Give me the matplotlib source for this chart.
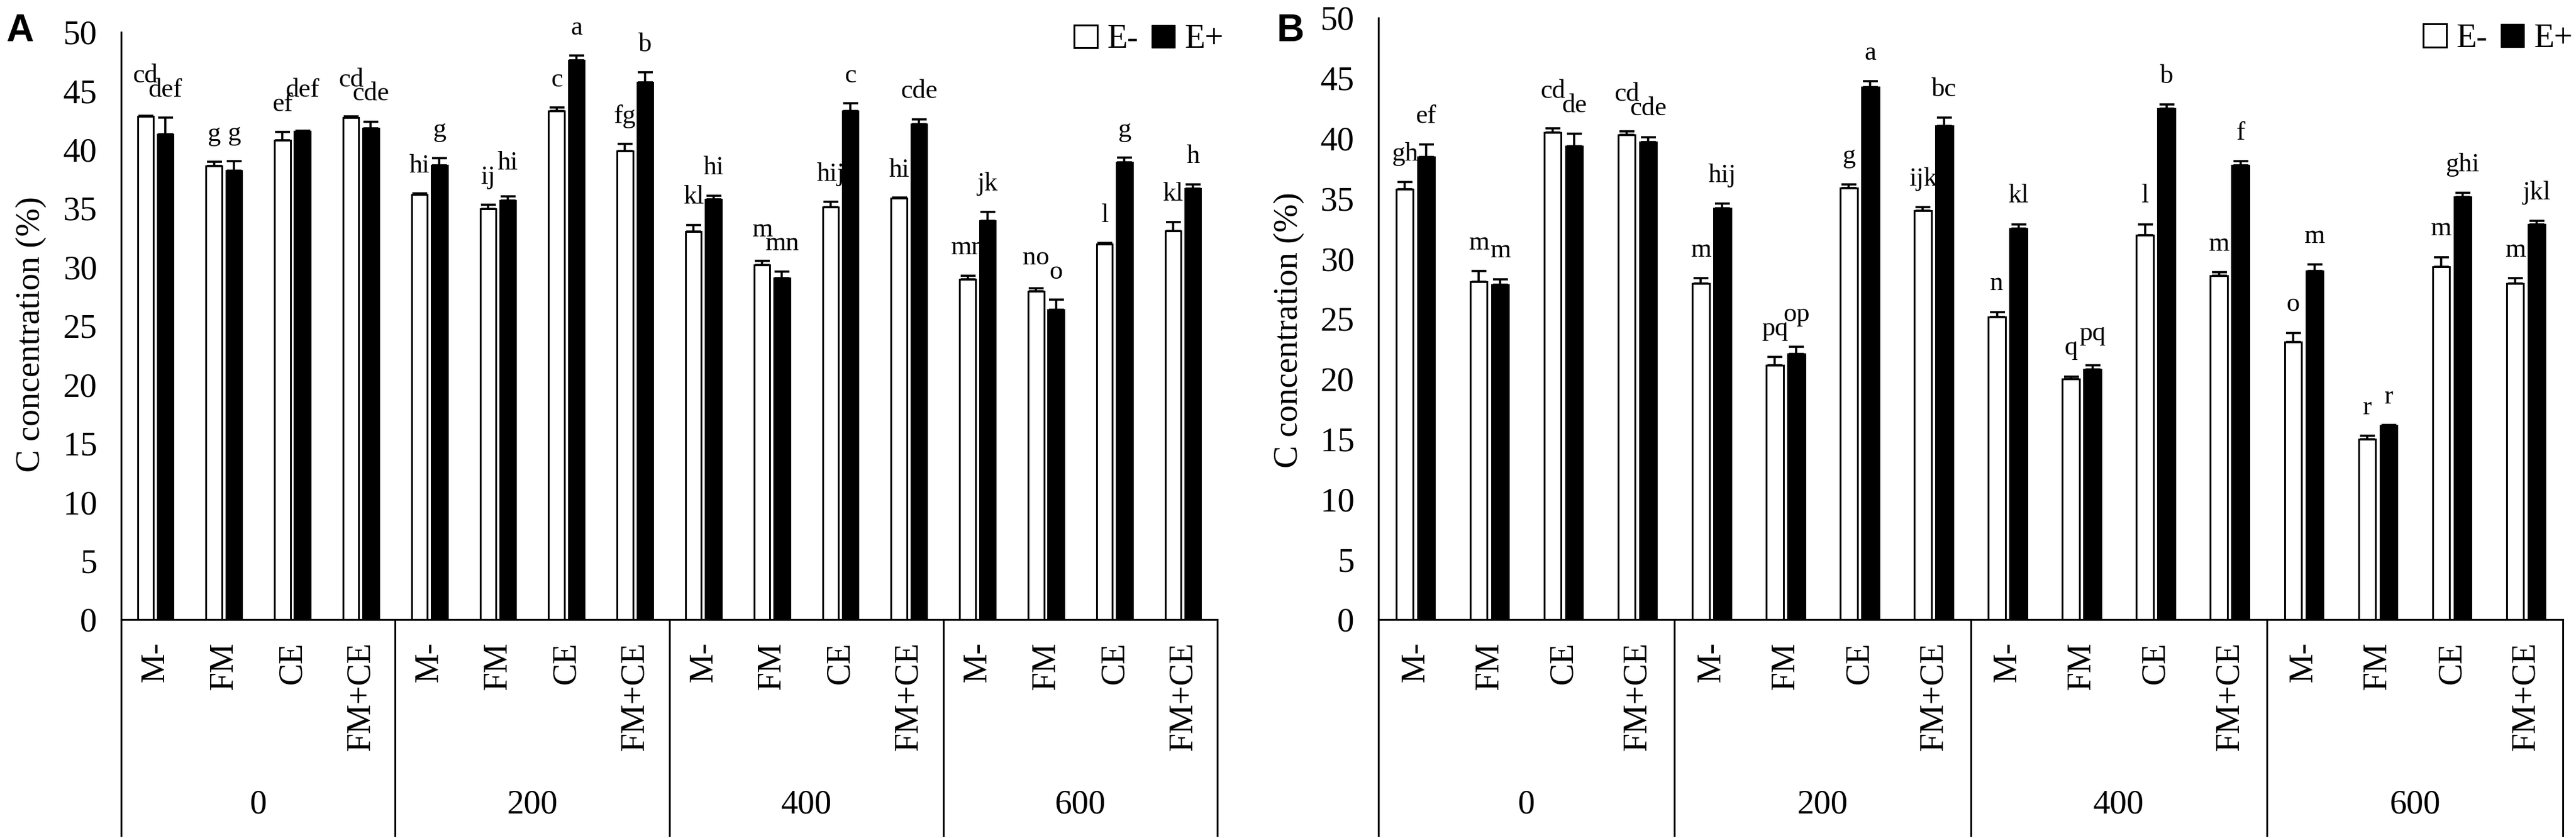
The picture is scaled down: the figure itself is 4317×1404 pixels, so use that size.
import numpy as np
import matplotlib
matplotlib.use("Agg")
import matplotlib.pyplot as plt
import matplotlib.transforms as mtransforms
from matplotlib.patches import Patch

plt.rcParams['font.family'] = ['Liberation Serif', 'DejaVu Serif']

treatments = ['M-', 'FM', 'CE', 'FM+CE']
levels = ['0', '200', '400', '600']

# panel A
a_eminus = [42.8, 38.6, 40.8, 42.7, 36.15, 34.95, 43.3, 39.86,
            33.0, 30.17, 35.12, 35.84, 28.97, 27.94, 31.96, 33.06]
a_eminus_err = [0.07, 0.34, 0.69, 0.1, 0.1, 0.35, 0.27, 0.62,
                0.58, 0.38, 0.41, 0.07, 0.31, 0.27, 0.07, 0.79]
a_eplus = [41.3, 38.2, 41.55, 41.82, 38.66, 35.64, 47.6, 45.7,
           35.74, 29.04, 43.3, 42.16, 33.92, 26.36, 38.93, 36.67]
a_eplus_err = [1.4, 0.8, 0.05, 0.55, 0.62, 0.38, 0.4, 0.86,
               0.34, 0.58, 0.62, 0.42, 0.79, 0.86, 0.38, 0.37]
a_eminus_let = ['cd', 'g', 'ef', 'cd', 'hi', 'ij', 'c', 'fg',
                'kl', 'm', 'hij', 'hi', 'mn', 'no', 'l', 'kl']
a_eplus_let = ['def', 'g', 'def', 'cde', 'g', 'hi', 'a', 'b',
               'hi', 'mn', 'c', 'cde', 'jk', 'o', 'g', 'h']

# panel B
b_eminus = [35.74, 28.09, 40.5, 40.27, 27.95, 21.14, 35.84, 33.96,
            25.17, 19.97, 31.95, 28.59, 23.09, 15.0, 29.3, 27.92]
b_eminus_err = [0.6, 0.87, 0.34, 0.33, 0.4, 0.67, 0.3, 0.3,
                0.4, 0.23, 0.9, 0.27, 0.74, 0.27, 0.83, 0.44]
b_eplus = [38.42, 27.85, 39.36, 39.7, 34.16, 22.08, 44.23, 41.0,
           32.48, 20.8, 42.45, 37.75, 28.96, 16.1, 35.13, 32.82]
b_eplus_err = [1.07, 0.44, 1.0, 0.4, 0.4, 0.57, 0.5, 0.7,
               0.37, 0.34, 0.34, 0.34, 0.54, 0.05, 0.34, 0.3]
b_eminus_let = ['gh', 'm', 'cd', 'cd', 'm', 'pq', 'g', 'ijk',
                'n', 'q', 'l', 'm', 'o', 'r', 'm', 'm']
b_eplus_let = ['ef', 'm', 'de', 'cde', 'hij', 'op', 'a', 'bc',
               'kl', 'pq', 'b', 'f', 'm', 'r', 'ghi', 'jkl']

W, H = 4317, 1404
fig = plt.figure(figsize=(W / 100, H / 100), dpi=100)

LW = 2.2
bw = 0.23
off = 0.145
gap = 1.8    # letter baseline above error bar top
step = 1.2   # min vertical step between neighbouring letters


def draw_panel(rect, em, em_err, ep, ep_err, em_let, ep_let, leg_anchor):
    ax = fig.add_axes(rect)
    n = len(em)
    x = np.arange(n) + 0.5
    ax.bar(x - off, em, bw, color='white', edgecolor='black', linewidth=LW, zorder=2)
    ax.bar(x + off, ep, bw, color='black', edgecolor='black', linewidth=LW, zorder=2)
    ax.errorbar(x - off, em, yerr=[np.zeros(n), em_err], fmt='none', ecolor='black',
                elinewidth=2.6, capsize=9, capthick=2.6, zorder=3)
    ax.errorbar(x + off, ep, yerr=[np.zeros(n), ep_err], fmt='none', ecolor='black',
                elinewidth=2.6, capsize=9, capthick=2.6, zorder=3)
    for i in range(n):
        yw = em[i] + em_err[i] + gap
        yb = ep[i] + ep_err[i] + gap
        # stagger the two letters of a pair when they would collide
        if abs(yw - yb) < step and len(em_let[i]) + len(ep_let[i]) >= 3:
            if yw >= yb:
                yw = yb + step
            else:
                yb = yw + step
        ax.text(x[i] - off, yw, em_let[i], ha='center', va='baseline',
                fontsize=32, clip_on=False)
        ax.text(x[i] + off, yb, ep_let[i], ha='center', va='baseline',
                fontsize=32, clip_on=False)

    ax.set_xlim(0, n)
    ax.set_ylim(0, 50)
    ax.set_yticks(np.arange(0, 51, 5))
    ax.set_xticks(x)
    ax.set_xticklabels(treatments * len(levels), rotation=90)
    ax.tick_params(axis='y', length=0, pad=29, labelsize=41)
    ax.tick_params(axis='x', length=0, pad=27, labelsize=40)
    for s in ['top', 'right']:
        ax.spines[s].set_visible(False)
    for s in ['left', 'bottom']:
        ax.spines[s].set_linewidth(LW)

    # group separators and group labels under the axis
    trans = mtransforms.blended_transform_factory(ax.transData, fig.transFigure)
    for k in range(len(levels) + 1):
        ax.plot([4 * k, 4 * k], [rect[1], 0.003], color='black', lw=LW,
                transform=trans, clip_on=False)
    for k, lev in enumerate(levels):
        ax.text(4 * k + 2, 0.0392, lev, transform=trans, ha='center',
                va='center', fontsize=41)

    handles = [Patch(facecolor='white', edgecolor='black', linewidth=LW, label='E-'),
               Patch(facecolor='black', edgecolor='black', label='E+')]
    ax.legend(handles=handles, ncol=2, frameon=False, loc='center right',
              bbox_to_anchor=leg_anchor, handlelength=0.7, handleheight=0.7,
              handletextpad=0.3, columnspacing=0.4, borderpad=0, borderaxespad=0,
              fontsize=40)
    return ax


axA = draw_panel([203 / W, 1 - 1038 / H, (2040 - 203) / W, (1038 - 53.6) / H],
                 a_eminus, a_eminus_err, a_eplus, a_eplus_err,
                 a_eminus_let, a_eplus_let, (1.006, 0.987))
axB = draw_panel([2310 / W, 1 - 1038 / H, (4295 - 2310) / W, (1038 - 30) / H],
                 b_eminus, b_eminus_err, b_eplus, b_eplus_err,
                 b_eminus_let, b_eplus_let, (1.0086, 0.965))

fig.text(52 / W, 1 - 560 / H, 'C concentration (%)', rotation=90, ha='center',
         va='center', fontsize=41)
fig.text(2160 / W, 1 - 553 / H, 'C concentration (%)', rotation=90, ha='center',
         va='center', fontsize=41)

fig.text(10 / W, 1 - 22 / H, 'A', ha='left', va='top', fontsize=46,
         fontweight='bold', family='Liberation Sans')
fig.text(2140 / W, 1 - 22 / H, 'B', ha='left', va='top', fontsize=46,
         fontweight='bold', family='Liberation Sans')

fig.savefig('out.png', dpi=100, facecolor='white')
